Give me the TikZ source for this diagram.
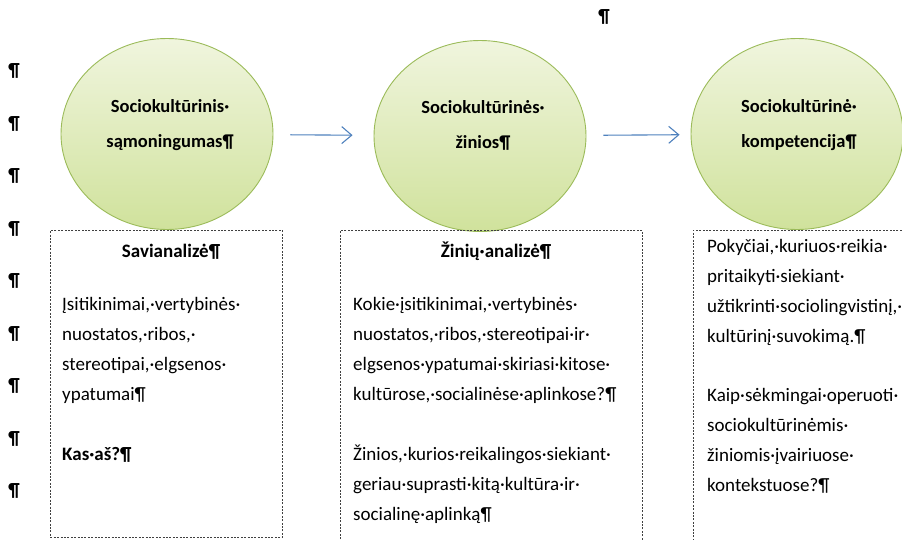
\documentclass[tikz,border=0pt]{standalone}
\usepackage{fontspec}
\setmainfont{Carlito}
\usetikzlibrary{arrows.meta,shapes.geometric}

\definecolor{bubbletop}{RGB}{240,245,222}
\definecolor{bubblebot}{RGB}{208,226,156}
\definecolor{bubbleline}{RGB}{155,187,89}
\definecolor{flowblue}{RGB}{79,129,189}

\tikzset{
  bubble/.style={ellipse, draw=bubbleline, line width=0.9pt, top color=bubbletop,
    bottom color=bubblebot, minimum width=212pt, minimum height=191pt, inner sep=0pt},
  bubbletext/.style={align=center, inner sep=0pt, font=\bfseries\fontsize{18.5}{35}\selectfont},
  notebox/.style={draw=black!75, dash pattern=on 2pt off 1.4pt, line width=0.7pt,
    anchor=north west, inner sep=0pt},
  boxhead/.style={anchor=base, inner sep=0pt, font=\bfseries\fontsize{19}{30}\selectfont},
  boxbody/.style={anchor=base west, align=left, inner sep=0pt, font=\fontsize{19}{30}\selectfont},
  flow/.style={->, draw=flowblue, line width=1.1pt},
  pilcrow/.style={inner sep=0pt, font=\bfseries\fontsize{19}{22}\selectfont}
}

\begin{document}
\begin{tikzpicture}[x=1pt,y=-1pt,>={Straight Barb[length=10pt,width=17pt]}]
    \useasboundingbox (0,0) rectangle (902,539);
    \clip (0,0) rectangle (902,539);
    % Formatting marks
    \foreach \i in {0,...,8}
        \node[pilcrow] (pil\i) at (14,{71+52.5*\i}) {¶};
    \node[pilcrow] (piltop) at (604,17) {¶};
    % Ellipses
    \node[bubble] (aware) at (167,134) {};
    \node[bubble] (knowledge) at (480,136) {};
    \node[bubble] (competence) at (797,134) {};
    \node[bubbletext] (awaretxt) at (170,125) {Sociokultūrinis·\\sąmoningumas¶};
    \node[bubbletext] (knowledgetxt) at (483,125) {Sociokultūrinės·\\žinios¶};
    \node[bubbletext] (competencetxt) at (799,125) {Sociokultūrinė·\\kompetencija¶};
    % Arrows
    \draw[flow, shorten <=17pt, shorten >=21pt] (aware) -- (knowledge);
    \draw[flow, shorten <=17pt, shorten >=11pt] (knowledge) -- (competence);
    % Boxes
    \node[notebox, minimum width=232pt, minimum height=307pt] (selfbox) at (50,230) {};
    \node[notebox, minimum width=302pt, minimum height=320pt] (knowbox) at (340,230) {};
    \node[notebox, minimum width=240pt, minimum height=320pt] (compbox) at (693,230) {};
    % Box texts (base = last line)
    \node[boxhead] (selfhead) at (171,257) {Savianalizė¶};
    \node[boxbody] (selfbody) at (62,400) {Įsitikinimai,·vertybinės·\\nuostatos,·ribos,·\\stereotipai,·elgsenos·\\ypatumai¶};
    \node[boxbody, font=\bfseries\fontsize{19}{30}\selectfont] (selfask) at (62,460) {Kas·aš?¶};
    \node[boxhead] (knowhead) at (496,257) {Žinių·analizė¶};
    \node[boxbody] (knowbody) at (353,400) {Kokie·įsitikinimai,·vertybinės·\\nuostatos,·ribos,·stereotipai·ir·\\elgsenos·ypatumai·skiriasi·kitose·\\kultūrose,·socialinėse·aplinkose?¶};
    \node[boxbody] (knowneed) at (353,520) {Žinios,·kurios·reikalingos·siekiant·\\geriau·suprasti·kitą·kultūra·ir·\\socialinę·aplinką¶};
    \node[boxbody] (compbody) at (707,342) {Pokyčiai,·kuriuos·reikia·\\pritaikyti·siekiant·\\užtikrinti·sociolingvistinį,·\\kultūrinį·suvokimą.¶};
    \node[boxbody] (compask) at (707,491) {Kaip·sėkmingai·operuoti·\\sociokultūrinėmis·\\žiniomis·įvairiuose·\\kontekstuose?¶};
\end{tikzpicture}
\end{document}
